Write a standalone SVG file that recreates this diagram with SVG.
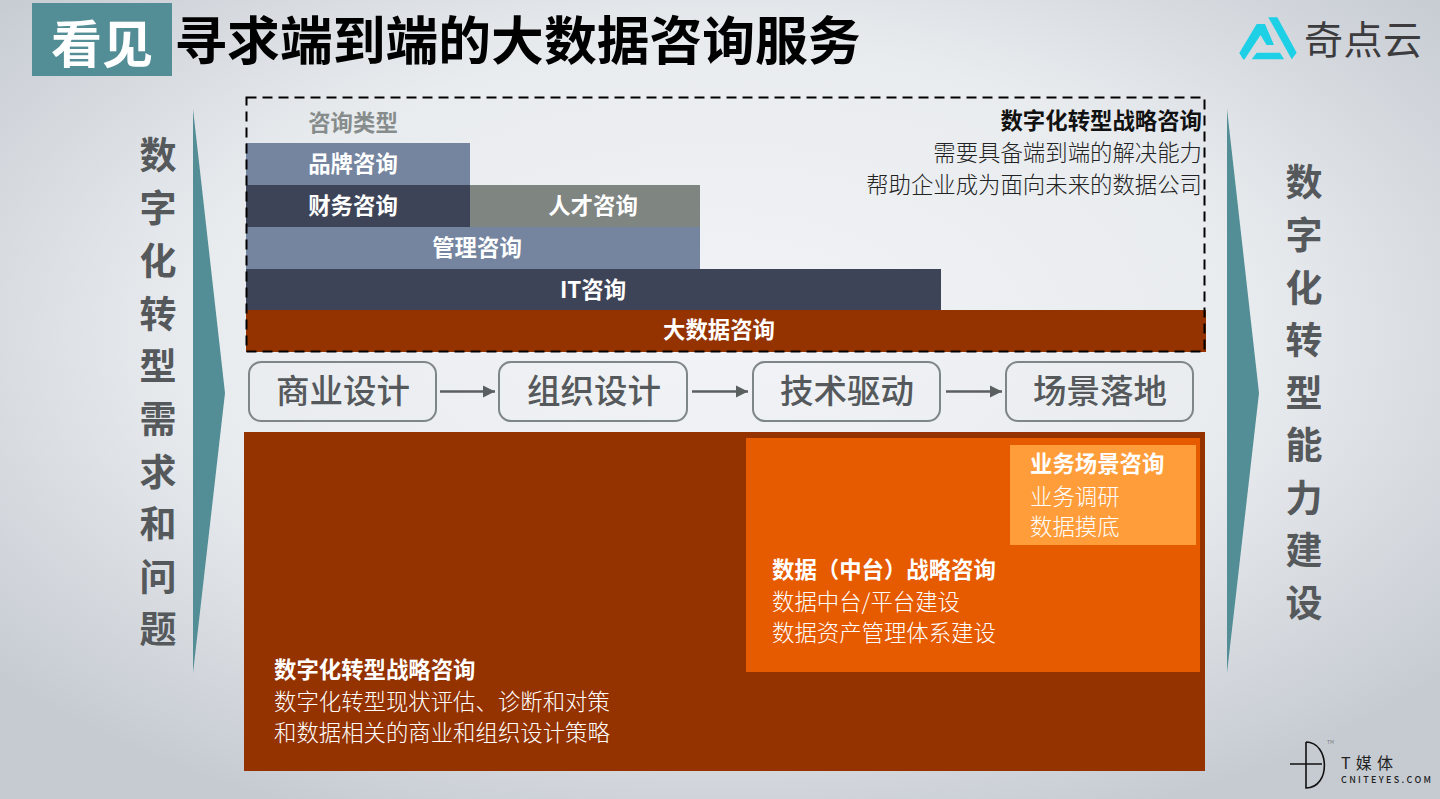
<svg xmlns="http://www.w3.org/2000/svg" width="1440" height="799" viewBox="0 0 1440 799">
<defs>
<radialGradient id="bg" cx="50%" cy="42%" r="66%"><stop offset="0" stop-color="#f1f3f6"/><stop offset="0.55" stop-color="#e9ecef"/><stop offset="1" stop-color="#c6cbd2"/></radialGradient>
<marker id="arr" markerUnits="userSpaceOnUse" markerWidth="14" markerHeight="14" refX="12" refY="7" orient="auto"><path d="M0 1 L12 7 L0 13 Z" fill="#5a5f5f"/></marker>
</defs>
<style>
text{font-family:"Noto Sans CJK SC","Liberation Sans",sans-serif}
.w{fill:#fff;font-weight:700;font-size:22.400px;text-anchor:middle}
.r{fill:#fff;font-size:22.400px;font-weight:300}
.rb{fill:#fff;font-size:22.400px;font-weight:700}
.v{fill:#55595c;font-size:37px;font-weight:700;text-anchor:middle}
.step{fill:none;stroke:#7f8786;stroke-width:2}
.st{fill:#55595c;font-size:33.500px;font-weight:500;text-anchor:middle}
.conn{stroke:#5a5f5f;stroke-width:2.500;fill:none;marker-end:url(#arr)}
.k{fill:#222;font-size:22.400px;font-weight:300;text-anchor:end}
</style>
<rect width="1440" height="799" fill="url(#bg)"/>
<g id="title">
<rect x="32" y="3" width="140" height="73" fill="#538d95"/>
<text x="102" y="63" fill="#fff" font-size="51" font-weight="700" text-anchor="middle">看见</text>
<text x="517.500" y="60" fill="#000" font-size="52.800" font-weight="700" text-anchor="middle">寻求端到端的大数据咨询服务</text>
</g>
<g id="logo">
<path d="M1239.300 53 L1256.700 24 L1265 24 L1274 45 L1266.500 45 L1260.500 35 L1244.500 59.500 L1243.300 59.500 Z" fill="#1dd0e6"/>
<path d="M1268.300 17.300 L1277.300 17.300 L1296.700 52.700 L1291.700 59.300 Z" fill="#1dd0e6"/>
<path d="M1256.700 52.700 L1280 52.700 L1284 59.300 L1251.700 59.300 Z" fill="#1dd0e6"/>
<text x="1304" y="54" fill="#3c3c3e" font-size="39" font-weight="400" textLength="118">奇点云</text>
</g>
<g id="tmedia">
<path d="M1306 742 C1330 742 1331 788 1306 788 L1306 742 M1290 764 L1322 764" fill="none" stroke="#111" stroke-width="1.600"/>
<text x="1327" y="744" fill="#777" font-size="5">TM</text>
<text x="1341" y="769" fill="#222" font-size="16" font-weight="400" textLength="52">T媒体</text>
<text x="1341" y="783" fill="#222" font-size="9" font-weight="500" textLength="90">CNITEYES.COM</text>
</g>
<g id="left-arrow">
<path d="M193 109 L225 393 L193 673 Z" fill="#538d95"/>
<text class="v"><tspan x="158" y="169">数</tspan><tspan x="158" y="222">字</tspan><tspan x="158" y="275">化</tspan><tspan x="158" y="328">转</tspan><tspan x="158" y="380">型</tspan><tspan x="158" y="433">需</tspan><tspan x="158" y="486">求</tspan><tspan x="158" y="538">和</tspan><tspan x="158" y="591">问</tspan><tspan x="158" y="643">题</tspan></text>
</g>
<g id="right-arrow">
<path d="M1227 109 L1259 393 L1227 673 Z" fill="#538d95"/>
<text class="v"><tspan x="1304" y="196">数</tspan><tspan x="1304" y="249">字</tspan><tspan x="1304" y="302">化</tspan><tspan x="1304" y="354">转</tspan><tspan x="1304" y="407">型</tspan><tspan x="1304" y="459">能</tspan><tspan x="1304" y="512">力</tspan><tspan x="1304" y="564">建</tspan><tspan x="1304" y="617">设</tspan></text>
</g>
<g id="consult-types">
<text x="353" y="131" fill="#868c8b" font-size="22.400" font-weight="700" text-anchor="middle">咨询类型</text>
<g id="brand"><rect x="246" y="143" width="224" height="42" fill="#75859f"/><text class="w" x="353" y="172">品牌咨询</text></g>
<g id="finance"><rect x="246" y="185" width="224" height="42" fill="#3e4457"/><text class="w" x="353" y="214">财务咨询</text></g>
<g id="talent"><rect x="470" y="185" width="230" height="42" fill="#7f8581"/><text class="w" x="593" y="214">人才咨询</text></g>
<g id="management"><rect x="246" y="227" width="454" height="42" fill="#75859f"/><text class="w" x="477" y="256">管理咨询</text></g>
<g id="it"><rect x="246" y="269" width="695" height="41" fill="#3e4457"/><text class="w" x="593" y="298">IT咨询</text></g>
<g id="bigdata"><rect x="246" y="310" width="960" height="42" fill="#943200"/><text class="w" x="719" y="338">大数据咨询</text></g>
<rect id="dash-box" x="246.500" y="97.500" width="958" height="254" fill="none" stroke="#000" stroke-width="2" stroke-dasharray="10 6"/>
<g id="strategy-top">
<text class="k" x="1202" y="129" style="font-weight:700;fill:#111">数字化转型战略咨询</text>
<text class="k" x="1202" y="161">需要具备端到端的解决能力</text>
<text class="k" x="1202" y="193">帮助企业成为面向未来的数据公司</text>
</g>
</g>
<g id="s1"><rect class="step" x="249" y="362" width="187" height="59" rx="12"/><text class="st" x="343" y="403">商业设计</text></g>
<g id="s2"><rect class="step" x="499" y="362" width="188" height="59" rx="12"/><text class="st" x="594" y="403">组织设计</text></g>
<g id="s3"><rect class="step" x="753" y="362" width="187" height="59" rx="12"/><text class="st" x="847" y="403">技术驱动</text></g>
<g id="s4"><rect class="step" x="1006" y="362" width="187" height="59" rx="12"/><text class="st" x="1100" y="403">场景落地</text></g>
<g id="connectors">
<line class="conn" x1="440" y1="391.500" x2="495" y2="391.500"/>
<line class="conn" x1="692" y1="391.500" x2="748" y2="391.500"/>
<line class="conn" x1="946" y1="391.500" x2="1002" y2="391.500"/>
</g>
<g id="outer">
<rect x="244" y="432" width="961" height="339" fill="#943200"/>
<text class="rb" x="274" y="678">数字化转型战略咨询</text>
<text class="r" x="274" y="710">数字化转型现状评估、诊断和对策</text>
<text class="r" x="274" y="741">和数据相关的商业和组织设计策略</text>
</g>
<g id="middle">
<rect x="746" y="438" width="454" height="234" fill="#e65a00"/>
<text class="rb" x="772" y="578">数据（中台）战略咨询</text>
<text class="r" x="772" y="610">数据中台/平台建设</text>
<text class="r" x="772" y="641">数据资产管理体系建设</text>
</g>
<g id="inner">
<rect x="1010" y="445" width="186" height="100" fill="#ff9d3a"/>
<text class="rb" x="1030" y="472">业务场景咨询</text>
<text class="r" x="1030" y="505">业务调研</text>
<text class="r" x="1030" y="535">数据摸底</text>
</g>
</svg>
